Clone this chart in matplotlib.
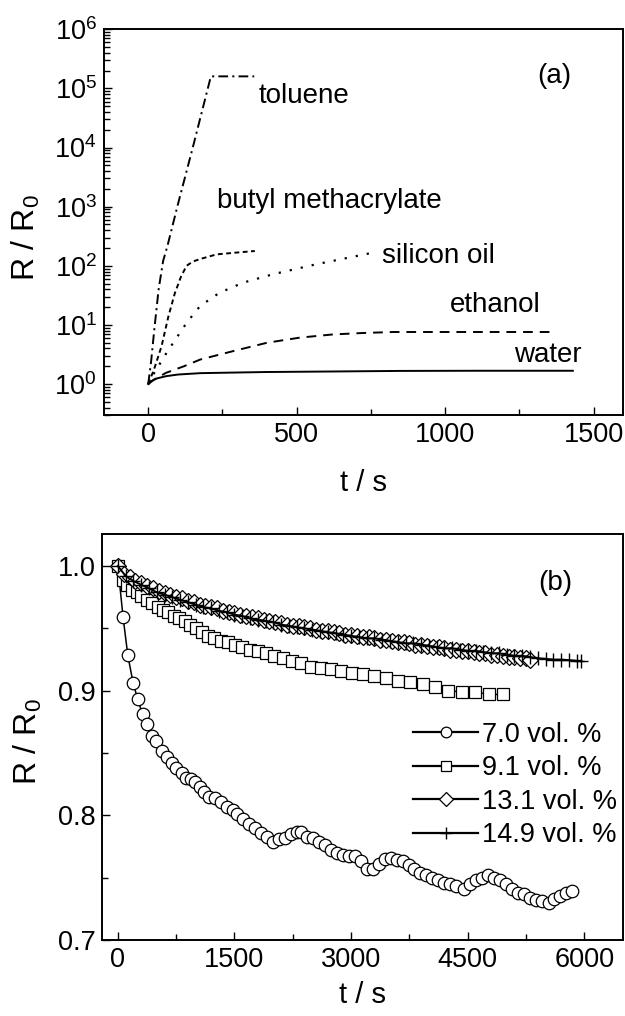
import matplotlib
matplotlib.use("Agg")
import matplotlib.pyplot as plt
from matplotlib.ticker import MultipleLocator, FixedLocator, LogLocator, NullFormatter

plt.rcParams['font.family'] = ['Liberation Sans', 'DejaVu Sans']
plt.rcParams['mathtext.fontset'] = 'custom'
plt.rcParams['mathtext.rm'] = 'Liberation Sans'
plt.rcParams['mathtext.it'] = 'Liberation Sans:italic'
plt.rcParams['lines.scale_dashes'] = False

# ---------------- panel (a) data ----------------
t_water = [0, 10, 30, 60, 100, 175, 300, 400, 600, 850, 1100, 1430]
r_water = [1.0, 1.12, 1.25, 1.36, 1.45, 1.53, 1.57, 1.6, 1.63, 1.67, 1.68, 1.68]

t_ethanol = [0, 20, 60, 120, 175, 285, 400, 510, 620, 720, 825, 1000, 1360]
r_ethanol = [1.0, 1.2, 1.55, 2.0, 2.6, 3.6, 5.0, 6.1, 6.9, 7.3, 7.6, 7.6, 7.6]

t_silicon = [0, 15, 34, 62, 107, 130, 175, 240, 320, 420, 565, 757]
r_silicon = [1.0, 1.4, 2.0, 3.4, 7.4, 11, 21, 35, 52, 72, 106, 167]

t_butyl = [0, 20, 45, 68, 90, 96, 110, 129, 150, 174, 230, 300, 359]
r_butyl = [1.0, 1.8, 4.4, 14, 35, 42, 65, 100, 118, 130, 156, 168, 178]

t_toluene = [0, 10, 20, 35, 50, 65, 100, 150, 211, 260, 357]
r_toluene = [1.0, 2.5, 8, 40, 120, 220, 1100, 1.0e4, 1.6e5, 1.6e5, 1.6e5]

labels_a = ["toluene", "butyl methacrylate", "silicon oil", "ethanol", "water"]
label_a_t = [371, 231, 787, 1017, 1231]
label_a_r = [10 ** 4.87, 10 ** 3.1, 10 ** 2.17, 10 ** 1.33, 10 ** 0.5]

# ---------------- panel (b) data ----------------
t_70 = [0, 67, 128, 195, 256, 317, 374, 435, 497, 563, 630, 691, 742, 819, 870,
        937, 998, 1050, 1111, 1178, 1254, 1331, 1408, 1475, 1536, 1613, 1690, 1766,
        1843, 1920, 1997, 2074, 2150, 2227, 2304, 2355, 2432, 2509, 2586, 2662, 2739,
        2816, 2893, 2970, 3046, 3123, 3200, 3277, 3354, 3430, 3507, 3584, 3661, 3738,
        3814, 3891, 3968, 4045, 4122, 4198, 4275, 4352, 4454, 4531, 4608, 4685, 4762,
        4838, 4915, 4992, 5069, 5146, 5222, 5299, 5376, 5453, 5545, 5606, 5683, 5760, 5837]
r_70 = [1.0, 0.959, 0.9285, 0.9065, 0.893, 0.881, 0.873, 0.864, 0.860, 0.852, 0.847,
        0.842, 0.838, 0.834, 0.830, 0.829, 0.827, 0.823, 0.819, 0.815, 0.814, 0.811,
        0.807, 0.804, 0.801, 0.797, 0.793, 0.790, 0.786, 0.783, 0.779, 0.781, 0.782,
        0.785, 0.787, 0.787, 0.783, 0.782, 0.779, 0.776, 0.772, 0.770, 0.768, 0.767,
        0.767, 0.763, 0.757, 0.757, 0.761, 0.765, 0.766, 0.764, 0.763, 0.760, 0.757,
        0.754, 0.752, 0.750, 0.748, 0.746, 0.745, 0.743, 0.741, 0.745, 0.748, 0.750,
        0.752, 0.750, 0.748, 0.745, 0.741, 0.738, 0.737, 0.734, 0.732, 0.731, 0.730,
        0.733, 0.735, 0.738, 0.739]

t_91 = [0, 60, 120, 180, 240, 300, 370, 440, 510, 580, 650, 720, 790, 860, 930, 1000,
        1080, 1160, 1240, 1330, 1420, 1510, 1600, 1700, 1800, 1900, 2010, 2120, 2240,
        2360, 2480, 2610, 2740, 2870, 3010, 3150, 3300, 3450, 3600, 3760, 3920, 4080,
        4250, 4420, 4590, 4770, 4950]
r_91 = [1.0, 0.989, 0.985, 0.981, 0.979, 0.976, 0.973, 0.970, 0.967, 0.965, 0.963,
        0.960, 0.958, 0.956, 0.953, 0.950, 0.947, 0.944, 0.942, 0.940, 0.939, 0.937,
        0.935, 0.933, 0.932, 0.930, 0.928, 0.926, 0.924, 0.922, 0.919, 0.918, 0.917,
        0.916, 0.914, 0.913, 0.912, 0.910, 0.908, 0.907, 0.905, 0.903, 0.900, 0.899,
        0.899, 0.897, 0.897]

t_131 = [0, 75, 150, 225, 300, 375, 450, 525, 600, 675, 750, 825, 900, 975, 1050, 1125,
         1200, 1275, 1350, 1425, 1500, 1575, 1650, 1725, 1800, 1875, 1950, 2025, 2100,
         2175, 2250, 2325, 2400, 2475, 2550, 2625, 2700, 2775, 2850, 2925, 3000, 3075,
         3150, 3225, 3300, 3375, 3450, 3525, 3600, 3675, 3750, 3825, 3900, 3975, 4050,
         4125, 4200, 4275, 4350, 4425, 4500, 4575, 4650, 4725, 4800, 4875, 4950, 5025,
         5100, 5175, 5250, 5300]
r_131 = [1.000, 0.994, 0.991, 0.988, 0.986, 0.984, 0.982, 0.980, 0.978, 0.977, 0.975,
         0.974, 0.972, 0.971, 0.969, 0.968, 0.967, 0.966, 0.964, 0.963, 0.962, 0.961,
         0.960, 0.959, 0.958, 0.957, 0.956, 0.955, 0.954, 0.953, 0.952, 0.952, 0.951,
         0.950, 0.949, 0.948, 0.948, 0.947, 0.946, 0.945, 0.945, 0.944, 0.943, 0.943,
         0.942, 0.941, 0.941, 0.940, 0.939, 0.939, 0.938, 0.937, 0.937, 0.936, 0.935,
         0.935, 0.934, 0.933, 0.933, 0.932, 0.932, 0.931, 0.930, 0.930, 0.929, 0.929,
         0.928, 0.927, 0.927, 0.926, 0.926, 0.925]

t_149 = [0, 100, 200, 300, 400, 500, 600, 700, 800, 900, 1000, 1100, 1200, 1300, 1400,
         1500, 1600, 1700, 1800, 1900, 2000, 2100, 2200, 2300, 2400, 2500, 2600, 2700,
         2800, 2900, 3000, 3100, 3200, 3300, 3400, 3500, 3600, 3700, 3800, 3900, 4000,
         4100, 4200, 4300, 4400, 4500, 4600, 4700, 4800, 4900, 5000, 5100, 5200, 5300,
         5400, 5500, 5600, 5700, 5800, 5900, 5960]
r_149 = [1.000, 0.992, 0.988, 0.985, 0.982, 0.979, 0.977, 0.975, 0.973, 0.971, 0.969,
         0.967, 0.966, 0.964, 0.963, 0.961, 0.960, 0.958, 0.957, 0.956, 0.955, 0.953,
         0.952, 0.951, 0.950, 0.949, 0.948, 0.947, 0.946, 0.945, 0.944, 0.943, 0.942,
         0.942, 0.941, 0.940, 0.939, 0.938, 0.938, 0.937, 0.936, 0.935, 0.934, 0.934,
         0.933, 0.932, 0.932, 0.931, 0.930, 0.930, 0.929, 0.928, 0.928, 0.927, 0.926,
         0.9255, 0.925, 0.925, 0.9245, 0.924, 0.924]

legend_labels = ["7.0 vol. %", "9.1 vol. %", "13.1 vol. %", "14.9 vol. %"]

# ---------------- figure ----------------
W, H = 625, 1016
fig = plt.figure(figsize=(W / 100, H / 100), dpi=100)
ax1 = fig.add_axes([103.7 / W, 1 - 415 / H, (623.3 - 103.7) / W, (415 - 29.3) / H])
ax2 = fig.add_axes([102.3 / W, 1 - 940 / H, (623.3 - 102.3) / W, (940 - 534) / H])

TICK_FS = 19.5
XLAB_FS = 21
YLAB_FS = 23
TXT_FS = 20
LEG_FS = 19.5
lw = 1.4

# panel (a)
ax1.plot(t_water, r_water, color='black', lw=lw, ls='-')
ax1.plot(t_ethanol, r_ethanol, color='black', lw=lw, ls=(0, (7, 5)))
ax1.plot(t_silicon, r_silicon, color='black', lw=1.6, ls=(0, (1.6, 6.5)))
ax1.plot(t_butyl, r_butyl, color='black', lw=lw, ls=(0, (3.5, 2.5)))
ax1.plot(t_toluene, r_toluene, color='black', lw=lw, ls=(0, (7, 3, 1.5, 3)))
ax1.set_yscale('log')
ax1.set_xlim(-150, 1600)
ax1.set_ylim(0.3, 1e6)
ax1.xaxis.set_major_locator(FixedLocator([0, 500, 1000, 1500]))
ax1.xaxis.set_minor_locator(FixedLocator([250, 750, 1250]))
ax1.yaxis.set_major_locator(FixedLocator([1, 10, 100, 1e3, 1e4, 1e5, 1e6]))
ax1.set_yticklabels([r'$\mathregular{10^{%d}}$' % k for k in range(7)])
ax1.yaxis.set_minor_locator(LogLocator(base=10, subs=range(2, 10), numticks=20))
ax1.yaxis.set_minor_formatter(NullFormatter())
for lab, tt, rr in zip(labels_a, label_a_t, label_a_r):
    ax1.text(tt, rr, lab, fontsize=TXT_FS, ha='left', va='center')
ax1.text(1311, 10 ** 5.21, "(a)", fontsize=TXT_FS, ha='left', va='center')
ax1.set_xlabel("t / s", fontsize=XLAB_FS)
ax1.set_ylabel(r'$\mathregular{R\ /\ R_0}$', fontsize=YLAB_FS)

# panel (b)
ms_kw = dict(color='black', mfc='white', mec='black', mew=0.9, lw=1.1)
h1, = ax2.plot(t_70, r_70, marker='o', ms=9, **ms_kw)
h2, = ax2.plot(t_91, r_91, marker='s', ms=8, **ms_kw)
h3, = ax2.plot(t_131, r_131, marker='D', ms=8, **ms_kw)
h4, = ax2.plot(t_149, r_149, marker='+', ms=10, color='black', mew=1.0, lw=1.4)
ax2.set_xlim(-200, 6500)
ax2.set_ylim(0.7, 1.0257)
ax2.xaxis.set_major_locator(MultipleLocator(1500))
ax2.xaxis.set_minor_locator(MultipleLocator(750))
ax2.yaxis.set_major_locator(FixedLocator([0.7, 0.8, 0.9, 1.0]))
ax2.yaxis.set_minor_locator(FixedLocator([0.75, 0.85, 0.95]))
ax2.set_yticklabels(["0.7", "0.8", "0.9", "1.0"])
ax2.text(5402, 0.986, "(b)", fontsize=TXT_FS, ha='left', va='center')
ax2.set_xlabel("t / s", fontsize=XLAB_FS)
ax2.set_ylabel(r'$\mathregular{R\ /\ R_0}$', fontsize=YLAB_FS)
leg = ax2.legend([h1, h2, h3, h4], legend_labels, loc='upper left',
                 bbox_to_anchor=(0.597, 0.538), frameon=False, fontsize=LEG_FS,
                 handlelength=2.4, handletextpad=0.15, labelspacing=0.28,
                 borderpad=0, borderaxespad=0, numpoints=1, markerscale=0.85)
for lh in leg.get_lines():
    lh.set_linewidth(1.6)

for ax in (ax1, ax2):
    for s in ax.spines.values():
        s.set_linewidth(1.4)
    ax.tick_params(which='both', direction='in', top=False, right=False,
                   labelsize=TICK_FS, width=1.0, pad=5)
    ax.tick_params(which='major', length=6)
    ax.tick_params(which='minor', length=4)

ax1.yaxis.set_label_coords(-0.118, 0.46)
ax2.yaxis.set_label_coords(-0.112, 0.488)
ax1.xaxis.set_label_coords(0.5, -0.14)
ax2.xaxis.set_label_coords(0.5, -0.10)

fig.savefig("out.png", dpi=100)
